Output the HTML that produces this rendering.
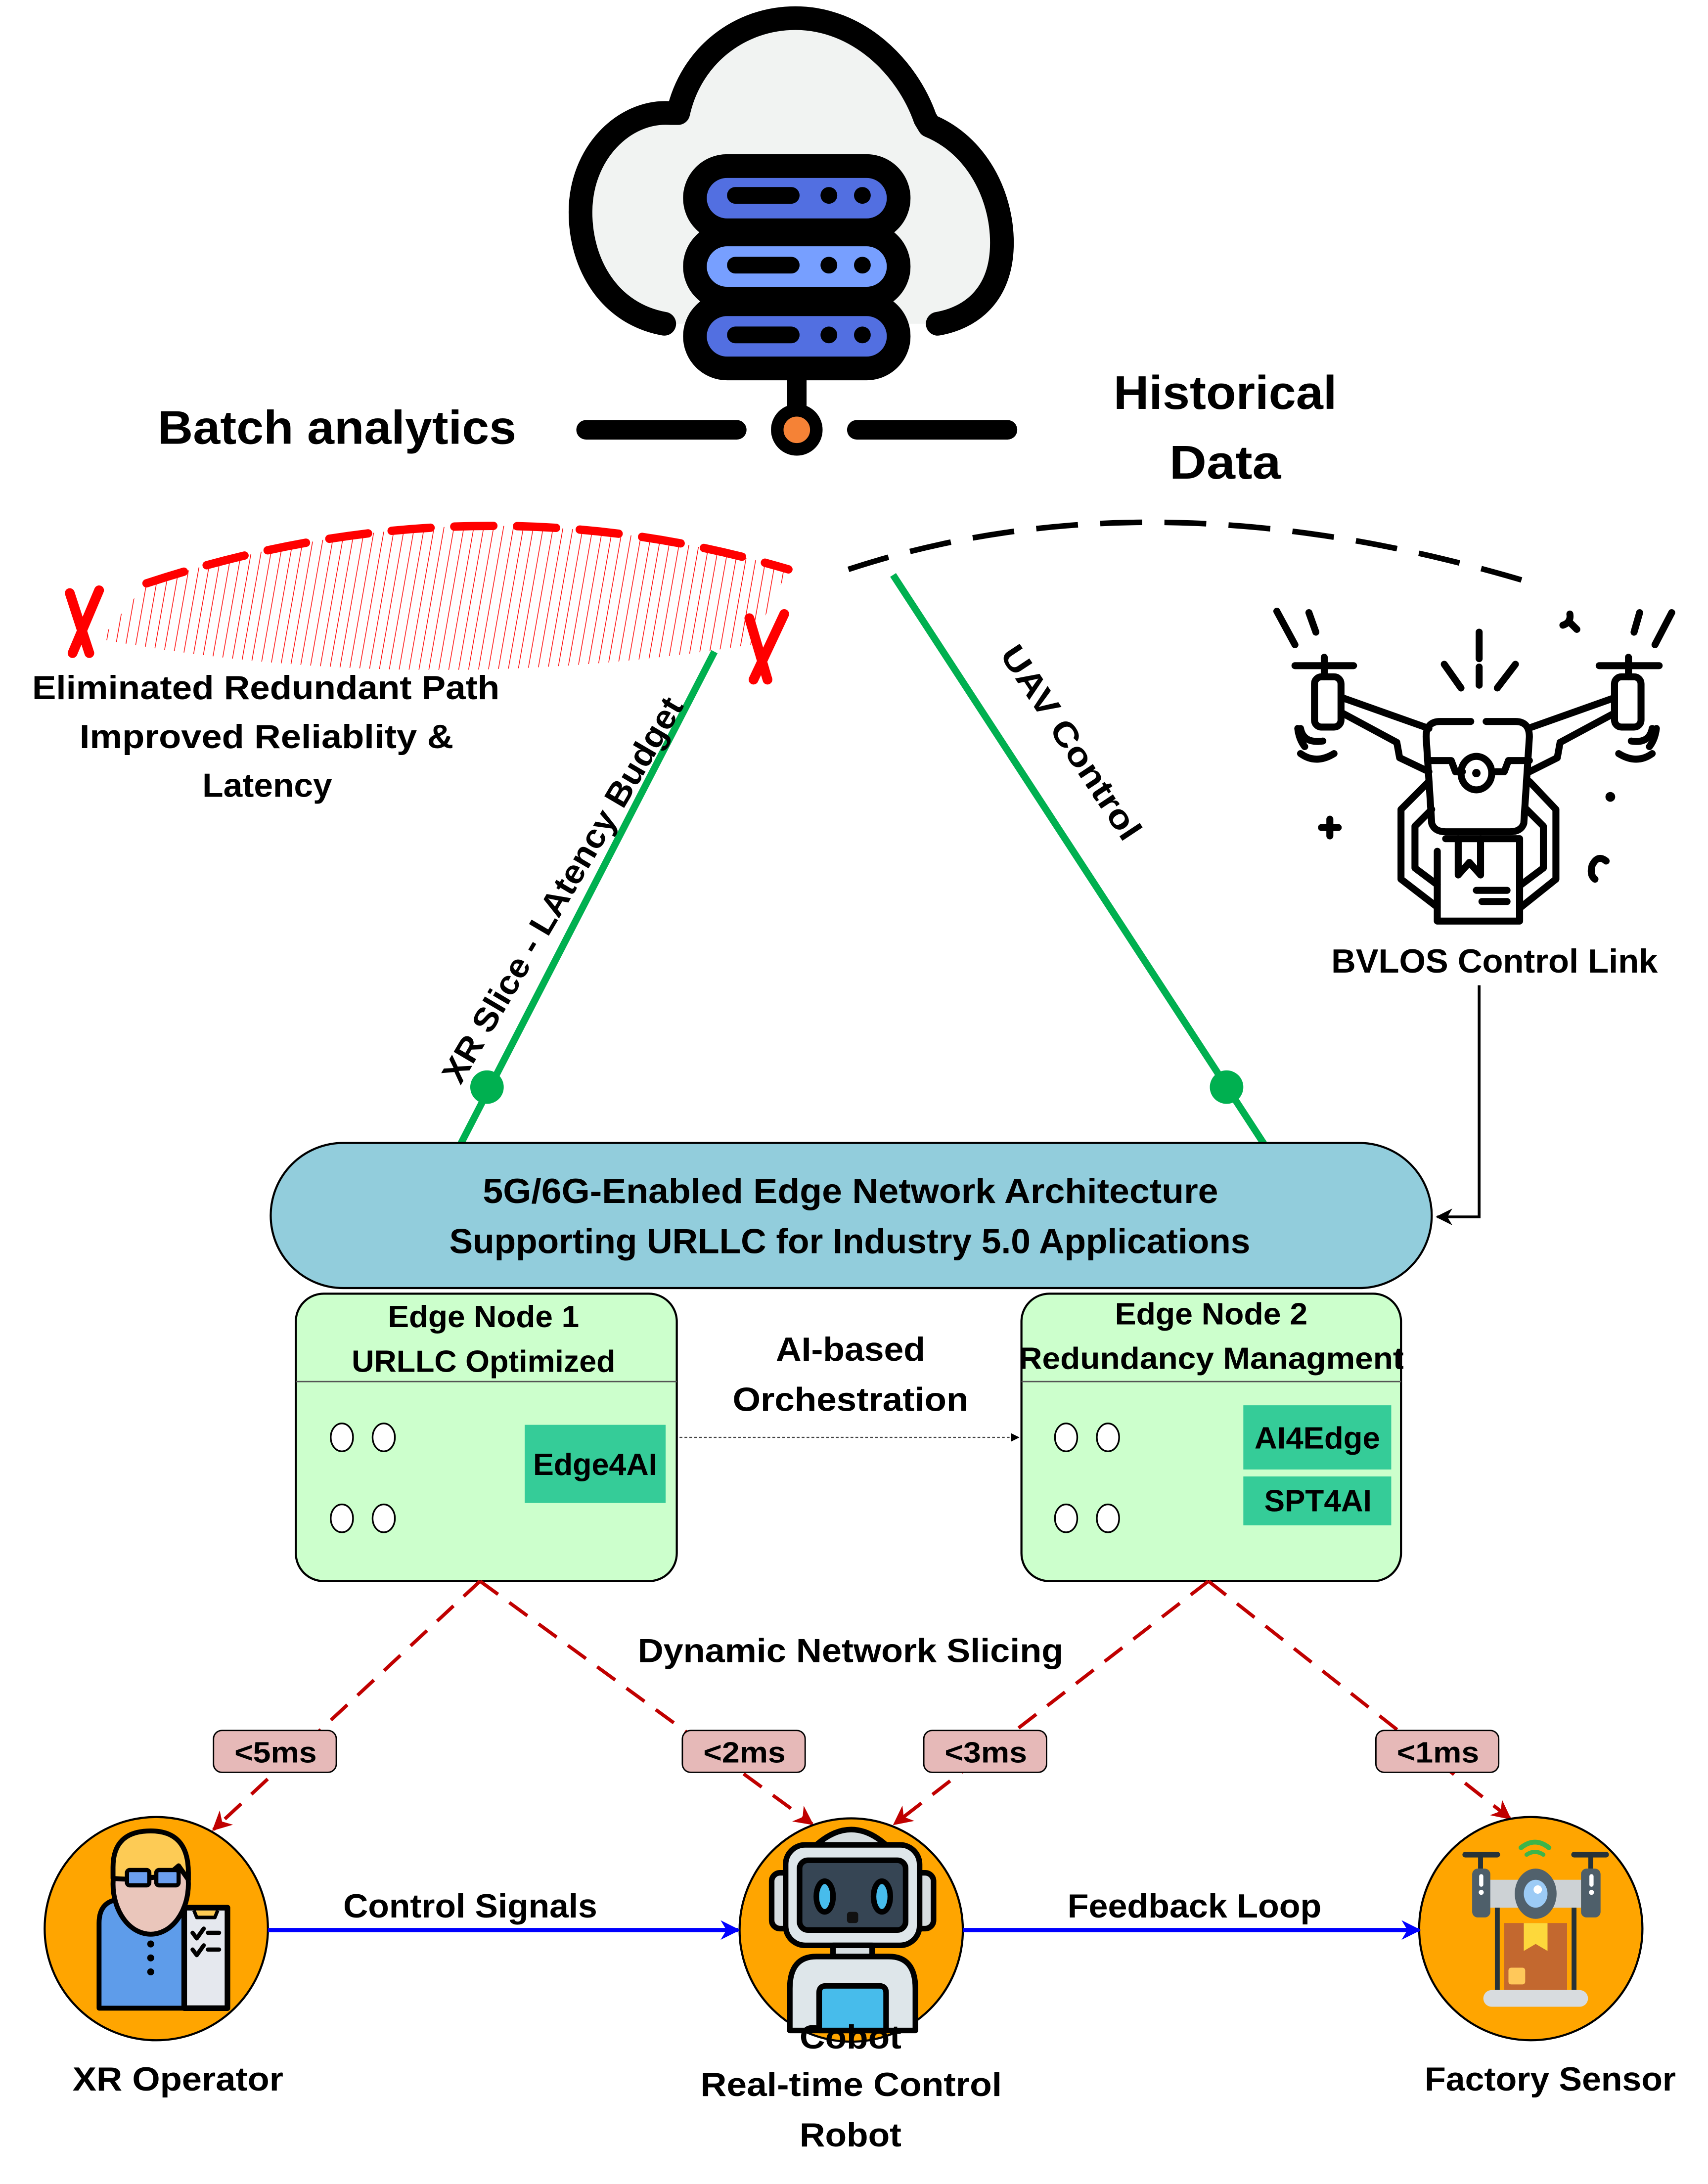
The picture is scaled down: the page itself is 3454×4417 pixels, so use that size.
<!DOCTYPE html>
<html><head><meta charset="utf-8">
<style>
html,body{margin:0;padding:0;background:#fff;}
svg{display:block;}
text{font-family:"Liberation Sans",Arial,sans-serif;font-weight:bold;fill:#000;}
</style></head>
<body>
<svg width="3454" height="4417" viewBox="0 0 1224 1565" preserveAspectRatio="none" xmlns="http://www.w3.org/2000/svg">
<defs>
<pattern id="hatch" width="7" height="20" patternUnits="userSpaceOnUse" patternTransform="rotate(10)">
<line x1="1" y1="0" x2="1" y2="20" stroke="#ff0000" stroke-width="0.5"/>
</pattern>
<clipPath id="hclip"><path d="M72,458 L105,418 Q339,341 565,408 L538,462 Q300,500 72,458 Z"/></clipPath>
<marker id="ar" viewBox="0 0 10 10" refX="9" refY="5" markerWidth="6" markerHeight="6" orient="auto" markerUnits="userSpaceOnUse"><path d="M0,0 L10,5 L0,10 Z" fill="#000"/></marker>
<marker id="arRed" viewBox="0 0 10 10" refX="9" refY="5" markerWidth="16" markerHeight="14" orient="auto" markerUnits="userSpaceOnUse"><path d="M0,0 L10,5 L0,10 L3,5 Z" fill="#C00000"/></marker>
<marker id="arBlue" viewBox="0 0 10 10" refX="9" refY="5" markerWidth="14" markerHeight="14" orient="auto" markerUnits="userSpaceOnUse"><path d="M0,0 L10,5 L0,10 L3,5 Z" fill="#0000FF"/></marker>
<marker id="arBlk" viewBox="0 0 10 10" refX="9" refY="5" markerWidth="12" markerHeight="12" orient="auto" markerUnits="userSpaceOnUse"><path d="M0,0 L10,5 L0,10 L3,5 Z" fill="#000"/></marker>
</defs>

<path d="M476,232 C437,225 416,190 416,152 C416,110 447,79 480,81 L486,81 C495,40 530,13 570,13 C615,13 650,48 663,85 L666,90 C700,104 718,140 718,174 C718,212 695,228 672,232 Z" fill="#F1F3F2" stroke="none"/>
<path d="M476,232 C437,225 416,190 416,152 C416,110 447,79 480,81 L486,81 C495,40 530,13 570,13 C615,13 650,48 663,85 L666,90 C700,104 718,140 718,174 C718,212 695,228 672,232" fill="none" stroke="#000" stroke-width="17" stroke-linecap="round" stroke-linejoin="round"/>
<g stroke="#000" stroke-width="17">
<rect x="498" y="119" width="146" height="46" rx="23" fill="#526FE1"/>
<rect x="498" y="168" width="146" height="46" rx="23" fill="#779FFF"/>
<rect x="498" y="218" width="146" height="46" rx="23" fill="#526FE1"/>
</g>
<g fill="#000">
<rect x="521" y="134" width="52" height="12" rx="6"/><circle cx="594" cy="140" r="6"/><circle cx="618" cy="140" r="6"/>
<rect x="521" y="184" width="52" height="12" rx="6"/><circle cx="594" cy="190" r="6"/><circle cx="618" cy="190" r="6"/>
<rect x="521" y="234" width="52" height="12" rx="6"/><circle cx="594" cy="240" r="6"/><circle cx="618" cy="240" r="6"/>
</g>
<line x1="571" y1="270" x2="571" y2="295" stroke="#000" stroke-width="14"/>
<line x1="420" y1="308" x2="528" y2="308" stroke="#000" stroke-width="14" stroke-linecap="round"/>
<line x1="614" y1="308" x2="722" y2="308" stroke="#000" stroke-width="14" stroke-linecap="round"/>
<circle cx="571" cy="308" r="14" fill="#F58236" stroke="#000" stroke-width="9"/>

<text x="113" y="318" font-size="34" textLength="257" lengthAdjust="spacingAndGlyphs">Batch analytics</text>
<text x="798" y="293" font-size="34" textLength="160" lengthAdjust="spacingAndGlyphs">Historical</text>
<text x="838" y="343" font-size="34" textLength="80" lengthAdjust="spacingAndGlyphs">Data</text>

<rect x="60" y="330" width="520" height="180" fill="url(#hatch)" clip-path="url(#hclip)"/>
<path d="M105,418 Q339,341 565,408" fill="none" stroke="#ff0000" stroke-width="6" stroke-dasharray="28 17" stroke-linecap="round"/>
<path d="M50,425 L64,468 M71,423 L52,468" fill="none" stroke="#ff0000" stroke-width="7" stroke-linecap="round"/>
<path d="M537,443 L550,487 M562,440 L540,487" fill="none" stroke="#ff0000" stroke-width="7" stroke-linecap="round"/>
<text x="23" y="501" font-size="24" textLength="335" lengthAdjust="spacingAndGlyphs">Eliminated Redundant Path</text>
<text x="57" y="536" font-size="24" textLength="268" lengthAdjust="spacingAndGlyphs">Improved Reliablity &amp;</text>
<text x="145" y="571" font-size="24" textLength="93" lengthAdjust="spacingAndGlyphs">Latency</text>

<path d="M608,408 Q830,335 1105,420" fill="none" stroke="#000" stroke-width="4" stroke-dasharray="30 16"/>

<line x1="512" y1="467" x2="330" y2="820" stroke="#00B050" stroke-width="5"/>
<circle cx="349" cy="779" r="12" fill="#00B050"/>
<line x1="640" y1="412" x2="906" y2="820" stroke="#00B050" stroke-width="5"/>
<circle cx="879" cy="779" r="12" fill="#00B050"/>
<text transform="translate(330,778) rotate(-59.5)" font-size="24" textLength="316" lengthAdjust="spacingAndGlyphs">XR Slice - LAtency Budget</text>
<text transform="translate(716,469) rotate(56.5)" font-size="24" textLength="162" lengthAdjust="spacingAndGlyphs">UAV Control</text>

<g fill="none" stroke="#000" stroke-width="5" stroke-linecap="round" stroke-linejoin="round">
<line x1="928" y1="477" x2="970" y2="477"/><line x1="949" y1="471" x2="949" y2="485"/>
<rect x="942" y="485" width="19" height="36" rx="5"/>
<line x1="1146" y1="477" x2="1189" y2="477"/><line x1="1167" y1="471" x2="1167" y2="485"/>
<rect x="1157" y="485" width="19" height="36" rx="5"/>
<path d="M962,500 L1024,522 M962,511 L1001,532 L1003,543 L1024,553"/>
<path d="M1157,500 L1095,522 M1157,511 L1118,532 L1116,543 L1096,553"/>
<path d="M1054,517 L1032,517 Q1022,517 1022,528 L1026,590 Q1028,596 1036,596 L1082,596 Q1090,596 1092,590 L1096,528 Q1096,517 1086,517 L1065,517"/>
<path d="M1024,545 L1040,545 L1043,553 L1048,553 M1096,545 L1081,545 L1078,553 L1072,553"/>
<ellipse cx="1058" cy="554" rx="11" ry="12"/>
<path d="M1024,560 L1004,580 L1004,630 L1030,650 M1026,580 L1014,592 L1014,622 L1030,634"/>
<path d="M1096,560 L1115,580 L1115,630 L1090,650 M1094,580 L1106,592 L1106,622 L1090,634"/>
<path d="M1030,610 L1030,660 L1089,660 L1089,601 L1036,601"/>
<path d="M1045,601 L1045,627 L1053,618 L1061,627 L1061,601"/>
<line x1="1058" y1="638" x2="1080" y2="638"/><line x1="1062" y1="646" x2="1080" y2="646"/>
<line x1="915" y1="438" x2="928" y2="462"/><line x1="938" y1="439" x2="943" y2="453"/>
<line x1="1198" y1="439" x2="1186" y2="462"/><line x1="1175" y1="439" x2="1171" y2="453"/>
<line x1="1060" y1="453" x2="1060" y2="472"/><line x1="1060" y1="478" x2="1060" y2="491"/>
<line x1="1035" y1="476" x2="1047" y2="493"/><line x1="1086" y1="476" x2="1073" y2="493"/>
<path d="M930,522 Q931,530 935,535 M932,540 Q943,548 956,540 M932,522 Q934,533 948,531"/>
<path d="M1187,522 Q1186,530 1182,535 M1184,540 Q1173,548 1160,540 M1184,522 Q1182,533 1169,531"/>
<path d="M947,593 L959,593 M953,587 L953,599"/>
<path d="M1151,617 Q1145,612 1141,620 Q1139,627 1143,630"/>
<path d="M1125,440 Q1126,446 1120,448 M1126,447 L1130,451"/>
</g>
<circle cx="1058" cy="554" r="3" fill="#000"/>
<circle cx="1154" cy="571" r="3.5" fill="#000"/>

<text x="954" y="697" font-size="24" textLength="234" lengthAdjust="spacingAndGlyphs">BVLOS Control Link</text>
<polyline points="1060,706 1060,872 1030,872" fill="none" stroke="#000" stroke-width="2" marker-end="url(#arBlk)"/>

<rect x="194" y="819" width="832" height="104" rx="52" ry="52" fill="#92CDDC" stroke="#000" stroke-width="1.5"/>
<text x="346" y="862" font-size="25" textLength="527" lengthAdjust="spacingAndGlyphs">5G/6G-Enabled Edge Network Architecture</text>
<text x="322" y="898" font-size="25" textLength="574" lengthAdjust="spacingAndGlyphs">Supporting URLLC for Industry 5.0 Applications</text>

<rect x="212" y="927" width="273" height="206" rx="20" fill="#CCFFCC" stroke="#000" stroke-width="1.5"/>
<line x1="212" y1="990" x2="485" y2="990" stroke="#555" stroke-width="1"/>
<text x="278" y="951" font-size="22" textLength="137" lengthAdjust="spacingAndGlyphs">Edge Node 1</text>
<text x="252" y="983" font-size="22" textLength="189" lengthAdjust="spacingAndGlyphs">URLLC Optimized</text>
<rect x="376" y="1021" width="101" height="56" fill="#35CC98"/>
<text x="382" y="1057" font-size="22" textLength="89" lengthAdjust="spacingAndGlyphs">Edge4AI</text>

<rect x="732" y="927" width="272" height="206" rx="20" fill="#CCFFCC" stroke="#000" stroke-width="1.5"/>
<line x1="732" y1="990" x2="1004" y2="990" stroke="#555" stroke-width="1"/>
<text x="799" y="949" font-size="22" textLength="138" lengthAdjust="spacingAndGlyphs">Edge Node 2</text>
<text x="730" y="981" font-size="22" textLength="276" lengthAdjust="spacingAndGlyphs">Redundancy Managment</text>
<rect x="891" y="1007" width="106" height="46" fill="#35CC98"/>
<text x="899" y="1038" font-size="22" textLength="90" lengthAdjust="spacingAndGlyphs">AI4Edge</text>
<rect x="891" y="1058" width="106" height="35" fill="#35CC98"/>
<text x="906" y="1083" font-size="22" textLength="77" lengthAdjust="spacingAndGlyphs">SPT4AI</text>

<g fill="#fff" stroke="#000" stroke-width="1.2">
<ellipse cx="245" cy="1030" rx="8" ry="10"/><ellipse cx="275" cy="1030" rx="8" ry="10"/>
<ellipse cx="245" cy="1088" rx="8" ry="10"/><ellipse cx="275" cy="1088" rx="8" ry="10"/>
<ellipse cx="764" cy="1030" rx="8" ry="10"/><ellipse cx="794" cy="1030" rx="8" ry="10"/>
<ellipse cx="764" cy="1088" rx="8" ry="10"/><ellipse cx="794" cy="1088" rx="8" ry="10"/>
</g>

<text x="556" y="975" font-size="24" textLength="107" lengthAdjust="spacingAndGlyphs">AI-based</text>
<text x="525" y="1011" font-size="24" textLength="169" lengthAdjust="spacingAndGlyphs">Orchestration</text>
<line x1="487" y1="1030" x2="730" y2="1030" stroke="#444" stroke-width="0.8" stroke-dasharray="2 1.5" marker-end="url(#ar)"/>

<text x="457" y="1191" font-size="24" textLength="305" lengthAdjust="spacingAndGlyphs">Dynamic Network Slicing</text>

<g stroke="#C00000" stroke-width="2.5" stroke-dasharray="16 10" fill="none">
<line x1="344" y1="1133" x2="153" y2="1311" marker-end="url(#arRed)"/>
<line x1="344" y1="1133" x2="582" y2="1307" marker-end="url(#arRed)"/>
<line x1="866" y1="1133" x2="641" y2="1307" marker-end="url(#arRed)"/>
<line x1="866" y1="1133" x2="1082" y2="1303" marker-end="url(#arRed)"/>
</g>
<g fill="#E6B9B8" stroke="#000" stroke-width="1">
<rect x="153" y="1240" width="88" height="30" rx="6"/>
<rect x="489" y="1240" width="88" height="30" rx="6"/>
<rect x="662" y="1240" width="88" height="30" rx="6"/>
<rect x="986" y="1240" width="88" height="30" rx="6"/>
</g>
<text x="168" y="1263" font-size="21" textLength="59" lengthAdjust="spacingAndGlyphs">&lt;5ms</text>
<text x="504" y="1263" font-size="21" textLength="59" lengthAdjust="spacingAndGlyphs">&lt;2ms</text>
<text x="677" y="1263" font-size="21" textLength="59" lengthAdjust="spacingAndGlyphs">&lt;3ms</text>
<text x="1001" y="1263" font-size="21" textLength="59" lengthAdjust="spacingAndGlyphs">&lt;1ms</text>

<circle cx="112" cy="1382" r="80" fill="#FFA500" stroke="#000" stroke-width="1.5"/>
<circle cx="610" cy="1383" r="80" fill="#FFA500" stroke="#000" stroke-width="1.5"/>
<circle cx="1097" cy="1382" r="80" fill="#FFA500" stroke="#000" stroke-width="1.5"/>

<g transform="translate(112,1382)" stroke="#000" stroke-width="3.5" stroke-linejoin="round">
<path d="M-41,57 L-41,-4 Q-41,-21 -24,-21 L-8,-21 L-8,-33 L19,-33 L19,-21 L20,-21 L20,57 Z" fill="#5E9CEA"/>
<path d="M-8,-33 L-8,-20 L-5,-17 L1,-20 L6,-17 L19,-20 L19,-33 Z" fill="#8BBEF6" stroke-width="2.5"/>
<ellipse cx="-4" cy="-32" rx="27" ry="36" fill="#EAC6BB"/>
<path d="M-31,-36 L-31,-44 Q-31,-70 -4,-70 Q23,-70 23,-40 L23,-35 L16,-45 L9,-39 Q-10,-34 -31,-36 Z" fill="#FDCB55"/>
<rect x="-21" y="-42" width="16" height="11" rx="2" fill="#6B9FEF" stroke-width="3"/>
<rect x="0" y="-42" width="16" height="11" rx="2" fill="#6B9FEF" stroke-width="3"/>
<line x1="-5" y1="-37" x2="0" y2="-37" stroke-width="3"/>
<rect x="20" y="-15" width="31" height="72" fill="#E5E8EE" stroke-width="4"/>
<path d="M27,-13 L29,-8 L42,-8 L44,-13" fill="#FDCB55" stroke-width="2.5"/>
<path d="M26,3 L29,7 L34,0 M26,15 L29,19 L34,12 M37,3 L45,3 M37,15 L45,15" fill="none" stroke-width="3" stroke-linecap="round"/>
</g>
<g fill="#000"><circle cx="108" cy="1393" r="2.5"/><circle cx="108" cy="1403" r="2.5"/><circle cx="108" cy="1413" r="2.5"/></g>

<g stroke="#000" stroke-width="4" stroke-linejoin="round">
<path d="M585,1322 Q610,1300 635,1322 Z" fill="#D6DDE0"/>
<rect x="553" y="1342" width="14" height="40" rx="6" fill="#D6DDE0"/>
<rect x="655" y="1342" width="14" height="40" rx="6" fill="#D6DDE0"/>
<rect x="563" y="1322" width="96" height="72" rx="14" fill="#DEE6EA"/>
<rect x="573" y="1333" width="76" height="50" rx="6" fill="#364554"/>
<rect x="597" y="1394" width="28" height="9" fill="#D6DDE0"/>
<path d="M566,1455 L566,1425 Q566,1402 585,1402 L637,1402 Q656,1402 656,1425 L656,1455 Z" fill="#DEE6EA"/>
<path d="M587,1455 L587,1428 Q587,1423 592,1423 L630,1423 Q635,1423 635,1428 L635,1455 Z" fill="#47BCEB"/>
</g>
<ellipse cx="591" cy="1359" rx="6" ry="11" fill="#47BCEB" stroke="#000" stroke-width="4"/>
<ellipse cx="632" cy="1359" rx="6" ry="11" fill="#47BCEB" stroke="#000" stroke-width="4"/>
<rect x="607" y="1370" width="8" height="8" rx="2" fill="#111"/>

<g transform="translate(1097,1382)">
<path d="M-7,-58 Q3,-66 13,-58" fill="none" stroke="#3DB54A" stroke-width="3.5" stroke-linecap="round"/>
<path d="M-3,-53 Q3,-57 9,-53" fill="none" stroke="#3DB54A" stroke-width="3" stroke-linecap="round"/>
<line x1="-47" y1="-53" x2="-24" y2="-53" stroke="#263238" stroke-width="4" stroke-linecap="round"/>
<line x1="31" y1="-53" x2="54" y2="-53" stroke="#263238" stroke-width="4" stroke-linecap="round"/>
<line x1="-36" y1="-53" x2="-36" y2="-43" stroke="#263238" stroke-width="3.5"/>
<line x1="43" y1="-53" x2="43" y2="-43" stroke="#263238" stroke-width="3.5"/>
<rect x="-30" y="-35" width="66" height="20" fill="#CDD2D5"/>
<line x1="-24" y1="-15" x2="-24" y2="44" stroke="#263238" stroke-width="3.5"/>
<line x1="31" y1="-15" x2="31" y2="44" stroke="#263238" stroke-width="3.5"/>
<rect x="-42" y="-43" width="13" height="35" rx="4" fill="#4E5F6A"/>
<rect x="36" y="-43" width="14" height="35" rx="4" fill="#4E5F6A"/>
<rect x="-37" y="-39" width="3" height="9" rx="1.5" fill="#fff"/><circle cx="-35.5" cy="-26" r="1.8" fill="#fff"/>
<rect x="42" y="-39" width="3" height="9" rx="1.5" fill="#fff"/><circle cx="43.5" cy="-26" r="1.8" fill="#fff"/>
<ellipse cx="3.5" cy="-25" rx="15" ry="18" fill="#51616C"/>
<ellipse cx="3.5" cy="-25" rx="8.5" ry="10" fill="#9CCBF5"/>
<circle cx="5" cy="-28" r="3" fill="#fff"/>
<rect x="-19" y="-4" width="45" height="48" fill="#C3682F"/>
<path d="M-5,-4 L12,-4 L12,16 L3.5,11 L-5,16 Z" fill="#FDD83B"/>
<rect x="-16" y="28" width="12" height="12" rx="2" fill="#FFC85A"/>
<rect x="-34" y="44" width="75" height="12" rx="6" fill="#D8DCDF"/>
</g>

<line x1="192" y1="1383" x2="529" y2="1383" stroke="#0000FF" stroke-width="3" marker-end="url(#arBlue)"/>
<line x1="690" y1="1383" x2="1017" y2="1383" stroke="#0000FF" stroke-width="3" marker-end="url(#arBlue)"/>
<text x="246" y="1374" font-size="24" textLength="182" lengthAdjust="spacingAndGlyphs">Control Signals</text>
<text x="765" y="1374" font-size="24" textLength="182" lengthAdjust="spacingAndGlyphs">Feedback Loop</text>

<text x="52" y="1498" font-size="24" textLength="151" lengthAdjust="spacingAndGlyphs">XR Operator</text>
<text x="573" y="1468" font-size="24" textLength="73" lengthAdjust="spacingAndGlyphs">Cobot</text>
<text x="502" y="1502" font-size="24" textLength="216" lengthAdjust="spacingAndGlyphs">Real-time Control</text>
<text x="573" y="1538" font-size="24" textLength="73" lengthAdjust="spacingAndGlyphs">Robot</text>
<text x="1021" y="1498" font-size="24" textLength="180" lengthAdjust="spacingAndGlyphs">Factory Sensor</text>
</svg>
</body></html>
